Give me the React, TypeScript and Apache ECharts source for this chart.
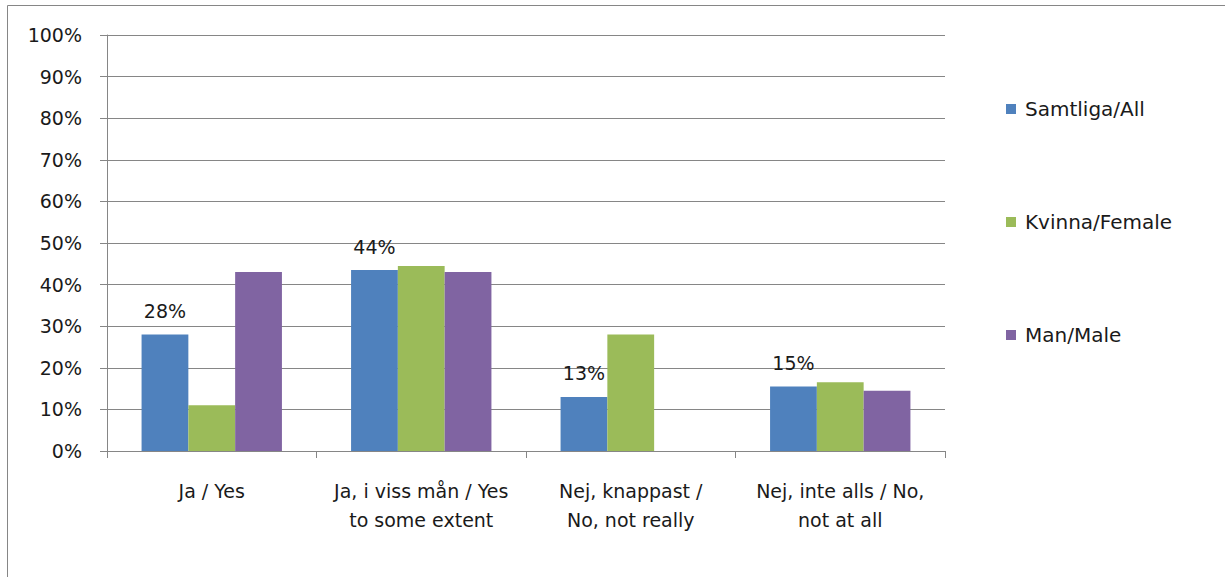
import React, { useEffect, useRef } from "react";
import * as echarts from "echarts";

const categories = [
  "Ja / Yes",
  "Ja, i viss mån / Yes\nto some extent",
  "Nej, knappast /\nNo, not really",
  "Nej, inte alls / No,\nnot at all",
];
const seriesNames = ["Samtliga/All", "Kvinna/Female", "Man/Male"];
const allValues = [28, 43.5, 13, 15.5];
const femaleValues = [11, 44.5, 28, 16.5];
const maleValues = [43, 43, 0, 14.5];
const allLabels = ["28%", "44%", "13%", "15%"];
const yTicks = [0, 10, 20, 30, 40, 50, 60, 70, 80, 90, 100];
const colors = ["#4F81BD", "#9BBB59", "#8064A2"];

const FONT = "DejaVu Sans";

export default function App() {
  const ref = useRef<HTMLDivElement>(null);
  useEffect(() => {
    if (!ref.current) return;
    const chart = echarts.init(ref.current, undefined, { renderer: "svg" });
    const bar = (name: string, data: number[], color: string, withLabels: boolean) => ({
      name,
      type: "bar",
      data: data.map((v) => (v === 0 ? null : v)),
      barGap: "0%",
      barCategoryGap: "33%",
      itemStyle: { color },
      label: withLabels
        ? {
            show: true,
            position: "top",
            distance: 14,
            color: "#1a1a1a",
            fontFamily: FONT,
            fontSize: 19,
            formatter: (p: any) => allLabels[p.dataIndex],
          }
        : { show: false },
    });
    chart.setOption({
      animation: false,
      color: colors,
      textStyle: { fontFamily: FONT },
      grid: { left: 107, right: 280, top: 35, bottom: 577 - 451 },
      legend: {
        orient: "vertical",
        left: 1001,
        top: 94,
        itemGap: 93,
        itemWidth: 10,
        itemHeight: 10,
        icon: "rect",
        data: seriesNames,
        textStyle: { fontFamily: FONT, fontSize: 20, color: "#1a1a1a", padding: [0, 0, 0, 4] },
      },
      xAxis: {
        type: "category",
        data: categories,
        axisLine: { lineStyle: { color: "#868686", width: 1 } },
        axisTick: { show: true, length: 7, lineStyle: { color: "#868686" } },
        axisLabel: {
          fontFamily: FONT,
          fontSize: 19,
          color: "#1a1a1a",
          margin: 25,
          lineHeight: 29,
          interval: 0,
        },
      },
      yAxis: {
        type: "value",
        min: 0,
        max: 100,
        interval: 10,
        axisLine: { show: true, lineStyle: { color: "#868686" } },
        axisTick: { show: true, length: 7, lineStyle: { color: "#868686" } },
        splitLine: { lineStyle: { color: "#868686", width: 1 } },
        axisLabel: {
          fontFamily: FONT,
          fontSize: 19,
          color: "#1a1a1a",
          margin: 25,
          formatter: (v: number) => (yTicks.includes(v) ? v + "%" : ""),
        },
      },
      graphic: [
        {
          type: "rect",
          shape: { x: 7.5, y: 5.5, width: 1240, height: 600 },
          style: { fill: "none", stroke: "#868686", lineWidth: 1 },
          silent: true,
        },
      ],
      series: [
        bar(seriesNames[0], allValues, colors[0], true),
        bar(seriesNames[1], femaleValues, colors[1], false),
        bar(seriesNames[2], maleValues, colors[2], false),
      ],
    });
    return () => chart.dispose();
  }, []);
  return (
    <div
      ref={ref}
      style={{ position: "fixed", left: 0, top: 0, width: 1225, height: 577, background: "#fff" }}
    />
  );
}
